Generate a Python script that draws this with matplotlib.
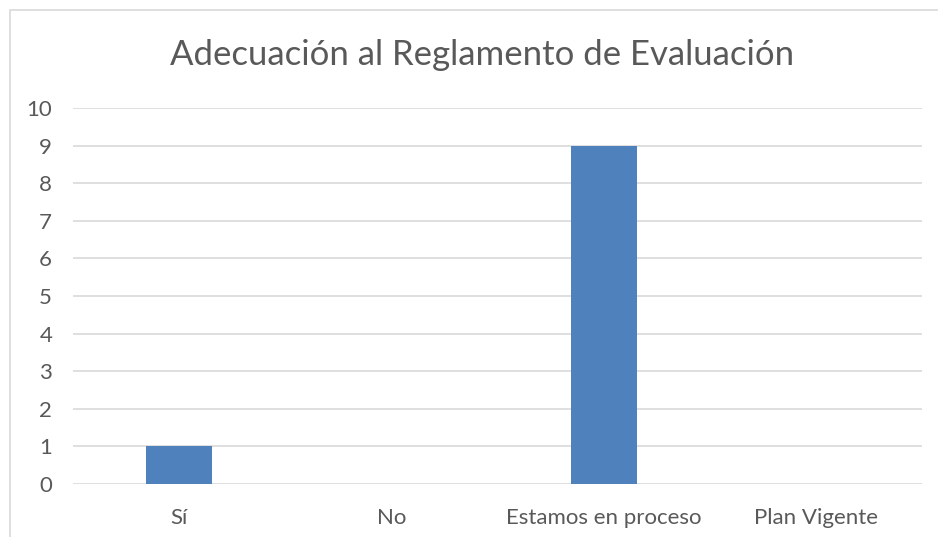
import matplotlib
matplotlib.use("Agg")
import matplotlib.pyplot as plt
from matplotlib.patches import Rectangle

categories = ["Sí", "No", "Estamos en proceso", "Plan Vigente"]
values = [1, 0, 9, 0]
yticks = list(range(0, 11))

plt.rcParams["font.family"] = ["Lato", "DejaVu Sans"]

fig = plt.figure(figsize=(9.38, 5.37), dpi=100)
W, H = 938, 537

# chart border (Excel-style frame, partly cropped)
fig.patches.append(Rectangle((10 / W, -0.1), 2, (H - 10) / H + 0.1,
                             transform=fig.transFigure, fill=False,
                             edgecolor="#D9D9D9", lw=1.2))

ax = fig.add_axes([73 / W, 1 - 484 / H, (922 - 73) / W, (484 - 108) / H])
x = range(len(categories))
ax.bar(x, values, width=0.31, color="#4F81BD", zorder=3)

ax.set_xlim(-0.5, len(categories) - 0.5)
ax.set_ylim(0, 10)
ax.set_yticks(yticks)
ax.set_xticks(list(x))
ax.set_xticklabels(categories)
ax.yaxis.grid(True, color="#D9D9D9", lw=1.2, zorder=0)
for s in ax.spines.values():
    s.set_visible(False)
ax.tick_params(axis="both", length=0, labelsize=16, colors="#595959")
ax.tick_params(axis="y", pad=15)
ax.tick_params(axis="x", pad=17)

fig.text(482 / W, 1 - 55 / H, "Adecuación al Reglamento de Evaluación",
         ha="center", va="center", fontsize=25, color="#595959")

fig.savefig("out.png", dpi=100)
